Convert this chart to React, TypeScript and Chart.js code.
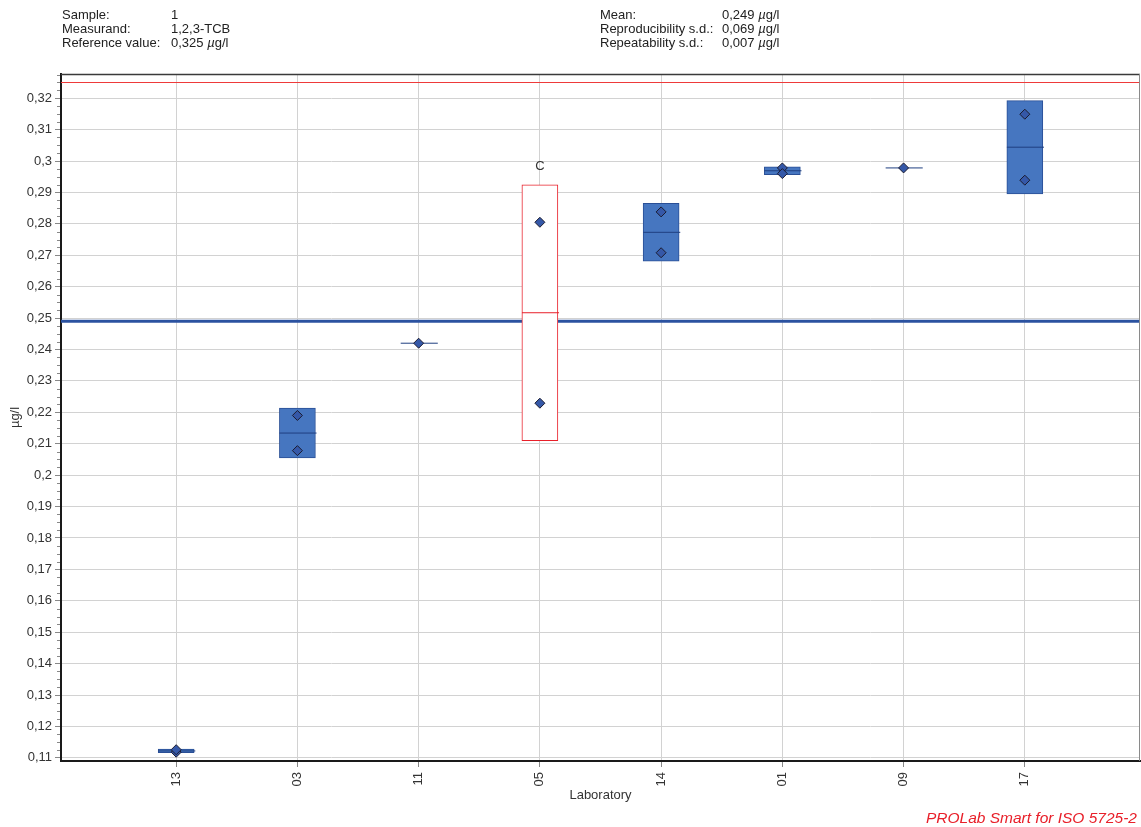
import React, { useEffect, useRef } from 'react';
import { Chart, registerables } from 'chart.js';

Chart.register(...registerables);

// ---- data ----
const LABS = ['13', '03', '11', '05', '14', '01', '09', '17'];
const RESULT_1: (number | null)[] = [0.1118, 0.219, 0.242, 0.2805, 0.2838, 0.2978, 0.2978, 0.3149];
const RESULT_2: (number | null)[] = [0.1126, 0.2078, null, 0.2229, 0.2708, 0.296, null, 0.2939];
const FLAGS = ['', '', '', 'C', '', '', '', ''];
const MEAN = 0.249;
const REFERENCE = 0.325;
const Y_TICKS = [0.11, 0.12, 0.13, 0.14, 0.15, 0.16, 0.17, 0.18, 0.19, 0.2, 0.21, 0.22, 0.23, 0.24, 0.25, 0.26, 0.27, 0.28, 0.29, 0.3, 0.31, 0.32];

const HEADER_LEFT = [
  ['Sample:', '1'],
  ['Measurand:', '1,2,3-TCB'],
  ['Reference value:', '0,325 µg/l'],
];
const HEADER_RIGHT = [
  ['Mean:', '0,249 µg/l'],
  ['Reproducibility s.d.:', '0,069 µg/l'],
  ['Repeatability s.d.:', '0,007 µg/l'],
];

const X_MIN = 0.05;
const X_MAX = 8.95;
const Y_MIN = 0.109;
const Y_MAX = 0.3277;
const HALF = 0.148;
const MINOR_STEP = 0.0025;

const BOX_FILL = '#4676c0';
const BOX_EDGE = '#2a4f96';
const RED = '#e8202a';
const FONT = "'Liberation Sans', Arial, sans-serif";

function stats(i: number) {
  const vals = [RESULT_1[i], RESULT_2[i]].filter((v) => v !== null) as number[];
  const mean = vals.reduce((a, b) => a + b, 0) / vals.length;
  const sd = vals.length > 1 ? Math.sqrt(vals.reduce((a, v) => a + (v - mean) ** 2, 0) / (vals.length - 1)) : 0;
  return { n: vals.length, mean, sd };
}

function fmt(v: number) {
  let s = v.toFixed(2);
  if (s.endsWith('0')) s = s.slice(0, -1);
  return s.replace('.', ',');
}

function withMu(text: string) {
  const parts = text.split('µ');
  if (parts.length === 1) return text;
  return (
    <>
      {parts[0]}
      <i>µ</i>
      {parts[1]}
    </>
  );
}

export default function App() {
  const ref = useRef<HTMLCanvasElement | null>(null);

  useEffect(() => {
    if (!ref.current) return;
    const st = LABS.map((_, i) => stats(i));

    const boxData = st
      .map((s, i) => ({ s, i }))
      .filter(({ s }) => s.n > 1)
      .map(({ s, i }) => ({ x: i + 1, y: [s.mean - s.sd, s.mean + s.sd], lab: i }));

    const medianData: any[] = [];
    st.forEach((s, i) => {
      medianData.push({ x: i + 1 - HALF, y: s.mean });
      medianData.push({ x: i + 1 + HALF + 0.01, y: s.mean });
      medianData.push({ x: i + 1 + HALF + 0.02, y: null });
    });

    const pointData: any[] = [];
    LABS.forEach((_, i) => {
      if (RESULT_1[i] !== null) pointData.push({ x: i + 1, y: RESULT_1[i] });
      if (RESULT_2[i] !== null) pointData.push({ x: i + 1, y: RESULT_2[i] });
    });

    const extras = {
      id: 'extras',
      afterDraw(chart: any) {
        const { ctx, chartArea, scales } = chart;
        const y = scales.y;
        const x = scales.x;
        ctx.save();
        // minor ticks
        ctx.strokeStyle = '#888';
        ctx.lineWidth = 1;
        for (let k = 0; ; k++) {
          const v = 0.11 + k * MINOR_STEP;
          if (v > Y_MAX) break;
          if (k % 4 === 0) continue;
          const py = Math.round(y.getPixelForValue(v)) + 0.5;
          ctx.beginPath();
          ctx.moveTo(chartArea.left - 4, py);
          ctx.lineTo(chartArea.left - 1, py);
          ctx.stroke();
        }
        // top and right borders
        ctx.strokeStyle = '#3a3a3a';
        ctx.lineWidth = 1.5;
        ctx.beginPath();
        ctx.moveTo(chartArea.left, chartArea.top + 0.5);
        ctx.lineTo(chartArea.right, chartArea.top + 0.5);
        ctx.stroke();
        ctx.strokeStyle = '#8a8a8a';
        ctx.lineWidth = 1;
        ctx.beginPath();
        ctx.moveTo(chartArea.right - 0.5, chartArea.top);
        ctx.lineTo(chartArea.right - 0.5, chartArea.bottom);
        ctx.stroke();
        // flags
        ctx.fillStyle = '#333';
        ctx.font = `13px ${FONT}`;
        ctx.textAlign = 'center';
        ctx.textBaseline = 'middle';
        FLAGS.forEach((f, i) => {
          if (!f) return;
          const s = st[i];
          const top = y.getPixelForValue(s.mean + s.sd);
          ctx.fillText(f, x.getPixelForValue(i + 1), top - 18);
        });
        ctx.restore();
      },
    };

    const chart = new Chart(ref.current, {
      data: {
        datasets: [
          {
            type: 'line',
            data: pointData,
            showLine: false,
            pointStyle: 'rectRot',
            pointRadius: 5,
            pointBackgroundColor: '#3558a8',
            pointBorderColor: '#1c1c30',
            pointBorderWidth: 1,
            order: 1,
          } as any,
          {
            type: 'line',
            data: medianData,
            spanGaps: false,
            borderWidth: 1,
            borderColor: '#1f3f80',
            pointRadius: 0,
            segment: {
              borderColor: (c: any) => (FLAGS[Math.floor(c.p0DataIndex / 3)] ? RED : '#1f3f80'),
            },
            order: 2,
          } as any,
          {
            type: 'bar',
            data: boxData,
            barThickness: 36,
            borderWidth: 1,
            borderSkipped: false,
            backgroundColor: (c: any) => (FLAGS[c.raw?.lab] ? '#ffffff' : BOX_FILL),
            borderColor: (c: any) => (FLAGS[c.raw?.lab] ? RED : BOX_EDGE),
            order: 3,
          } as any,
          {
            type: 'line',
            data: [
              { x: X_MIN, y: MEAN },
              { x: X_MAX, y: MEAN },
            ],
            borderColor: '#2b52a0',
            borderWidth: 3,
            pointRadius: 0,
            order: 4,
          } as any,
          {
            type: 'line',
            data: [
              { x: X_MIN, y: REFERENCE },
              { x: X_MAX, y: REFERENCE },
            ],
            borderColor: '#ee3a3a',
            borderWidth: 1.2,
            pointRadius: 0,
            order: 5,
          } as any,
        ],
      },
      options: {
        animation: false,
        responsive: true,
        maintainAspectRatio: false,
        events: [],
        layout: { autoPadding: false, padding: { top: 74, left: 0, right: 1, bottom: 20 } },
        plugins: { legend: { display: false }, tooltip: { enabled: false } },
        scales: {
          x: {
            type: 'linear',
            min: X_MIN,
            max: X_MAX,
            offset: false,
            afterBuildTicks: (s: any) => {
              s.ticks = LABS.map((_, i) => ({ value: i + 1 }));
            },
            afterFit: (s: any) => {
              s.height = 46;
              s.paddingLeft = 0;
              s.paddingRight = 0;
            },
            ticks: {
              autoSkip: false,
              minRotation: 90,
              maxRotation: 90,
              padding: 5,
              color: '#333',
              font: { family: FONT, size: 13 },
              callback: (v: any) => LABS[Math.round(v) - 1] ?? '',
            },
            grid: { offset: false, color: '#d2d2d2', lineWidth: 1, tickLength: 6, tickColor: '#888' },
            border: { color: '#1a1a1a', width: 2 },
            title: {
              display: true,
              text: 'Laboratory',
              color: '#333',
              font: { family: FONT, size: 13 },
              padding: { top: 0, bottom: 4 },
            },
          },
          y: {
            type: 'linear',
            min: Y_MIN,
            max: Y_MAX,
            afterBuildTicks: (s: any) => {
              s.ticks = Y_TICKS.map((v) => ({ value: v }));
            },
            afterFit: (s: any) => {
              s.width = 61;
              s.paddingTop = 0;
              s.paddingBottom = 0;
            },
            ticks: {
              padding: 3,
              color: '#333',
              font: { family: FONT, size: 13 },
              callback: (v: any) => fmt(Number(v)),
            },
            grid: { color: '#d2d2d2', lineWidth: 1, tickLength: 6, tickColor: '#888' },
            border: { color: '#1a1a1a', width: 2 },
            title: {
              display: true,
              text: 'µg/l',
              color: '#333',
              font: { family: FONT, size: 13 },
              padding: { top: 8, bottom: 0 },
            },
          },
        },
      },
      plugins: [extras],
    } as any);
    return () => chart.destroy();
  }, []);

  const textStyle: React.CSSProperties = {
    position: 'absolute',
    fontFamily: FONT,
    fontSize: 13,
    lineHeight: '14px',
    color: '#222',
    whiteSpace: 'nowrap',
  };

  return (
    <div style={{ position: 'absolute', left: 0, top: 0, width: 1141, height: 827, background: '#fff' }}>
      <canvas ref={ref} />
      {HEADER_LEFT.map(([k, v], i) => (
        <React.Fragment key={'l' + i}>
          <div style={{ ...textStyle, left: 62, top: 8 + i * 14 }}>{k}</div>
          <div style={{ ...textStyle, left: 171, top: 8 + i * 14 }}>{withMu(v)}</div>
        </React.Fragment>
      ))}
      {HEADER_RIGHT.map(([k, v], i) => (
        <React.Fragment key={'r' + i}>
          <div style={{ ...textStyle, left: 600, top: 8 + i * 14 }}>{k}</div>
          <div style={{ ...textStyle, left: 722, top: 8 + i * 14 }}>{withMu(v)}</div>
        </React.Fragment>
      ))}
      <div
        style={{ ...textStyle, right: 4, top: 809, fontSize: 15.5, lineHeight: '18px', color: RED, fontStyle: 'italic' }}
      >
        PROLab Smart for ISO 5725-2
      </div>
    </div>
  );
}
